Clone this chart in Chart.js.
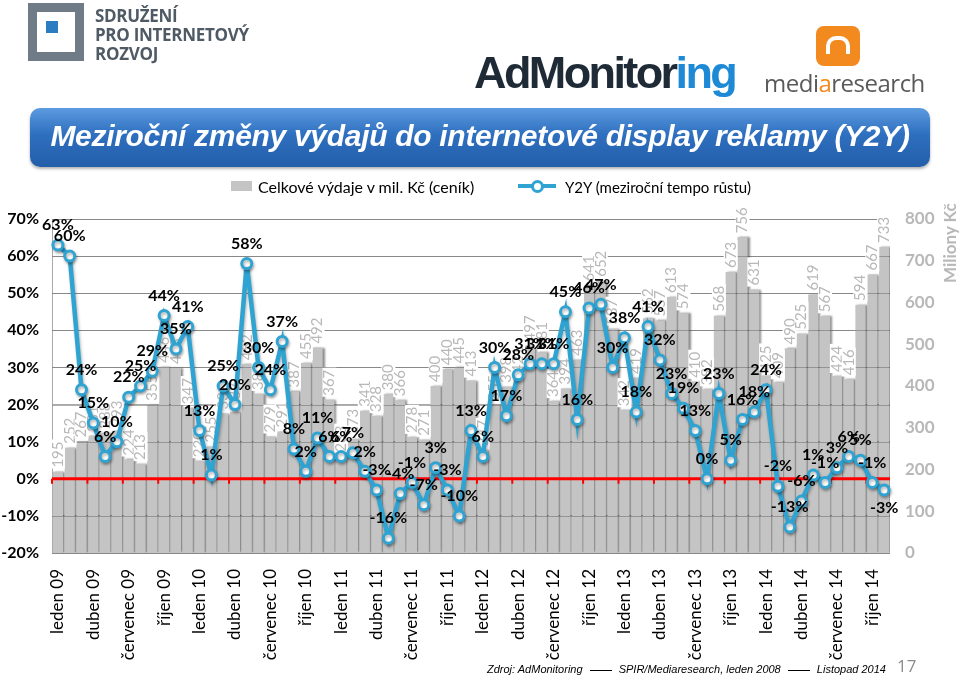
<!DOCTYPE html>
<html>
<head>
<meta charset="utf-8">
<script src="https://cdn.jsdelivr.net/npm/chart.js@4.4.0/dist/chart.umd.min.js"></script>
<style>
  body { margin: 0; width: 960px; height: 679px; position: relative; overflow: hidden; background: #fff; font-family: Lato, "Open Sans", sans-serif; }
  #chart { position: absolute; left: 0; top: 0; }
  .abs { position: absolute; }
  #spirIcon { left: 28px; top: 3px; width: 38px; height: 40px; border: 9px solid #6f7b86; }
  #spirIcon:after { content: ""; position: absolute; left: 9px; top: 9px; width: 12px; height: 12px; background: #2b7cc1; }
  #spirText { left: 95px; top: 6px; color: #4f5a65; font: bold 17px "Open Sans", sans-serif; line-height: 19px; letter-spacing: -0.3px; }
  #adm { left: 474px; top: 47px; font: bold 45px "Liberation Sans", Arial, sans-serif; color: #1e2a36; letter-spacing: -2.6px; }
  #adm span { color: #1e8ad6; }
  #mrIcon { left: 816px; top: 26px; width: 44px; height: 40px; background: #f28a1f; border-radius: 8px; }
  #mrIcon:after { content: ""; position: absolute; left: 10px; top: 10px; width: 16px; height: 14px; border: 4px solid #fff; border-radius: 10px 10px 0 0; border-bottom: none; }
  #mrText { left: 764px; top: 66px; font: 24px "Open Sans", sans-serif; color: #5a5a5a; letter-spacing: -0.5px; }
  #mrText span { color: #f28a1f; }
  #titleBar { left: 30px; top: 108px; width: 900px; height: 59px; border-radius: 10px;
    background: linear-gradient(#5c9be0, #2e6fbf 45%, #235ea9); box-shadow: 0 2px 3px rgba(0,0,0,0.3); }
  #title { left: 30px; top: 119px; width: 900px; text-align: center; color: #fff; font: italic bold 30px "Liberation Sans", Arial, sans-serif; letter-spacing: -0.3px; white-space: nowrap; }
  .legTxt { top: 177px; color: #000; }
  #legBar { left: 231px; top: 181px; width: 21px; height: 10px; background: #c4c4c4; }
  #legLine { left: 518px; top: 184px; width: 38px; height: 4px; background: #2fa3d1; }
  #legDot { left: 531px; top: 180px; width: 7px; height: 7px; border: 3px solid #2fa3d1; border-radius: 50%; background: #fff; }
  #milTitle { left: 939px; top: 283px; transform: rotate(-90deg); transform-origin: left top; color: #b8b8b8; font: bold 17px Lato, sans-serif; white-space: nowrap; }
  #source { left: 487px; top: 663px; font: italic 11px "Liberation Sans", Arial, sans-serif; color: #000; white-space: nowrap; }
  #source i.ln { display: inline-block; width: 22px; border-top: 1px solid #000; vertical-align: middle; margin: 0 4px; }
  #page { left: 897px; top: 654px; font: 17px "Open Sans", sans-serif; color: #8c8c8c; }
</style>
</head>
<body>
<canvas id="chart" width="960" height="679"></canvas>

<div class="abs" id="spirIcon"></div>
<div class="abs" id="spirText">SDRUŽENÍ<br>PRO INTERNETOVÝ<br>ROZVOJ</div>
<div class="abs" id="adm">AdMonitor<span>ing</span></div>
<div class="abs" id="mrIcon"></div>
<div class="abs" id="mrText">medi<span>a</span>research</div>
<div class="abs" id="titleBar"></div>
<div class="abs" id="title">Meziroční změny výdajů do internetové display reklamy (Y2Y)</div>
<div class="abs" id="legBar"></div>
<div class="abs legTxt" style="left:258px;font-size:16px">Celkové výdaje v mil. Kč (ceník)</div>
<div class="abs" id="legLine"></div>
<div class="abs" id="legDot"></div>
<div class="abs legTxt" style="left:565px;font-size:15px;top:178px">Y2Y (meziroční tempo růstu)</div>
<div class="abs" id="milTitle">Miliony Kč</div>
<div class="abs" id="source">Zdroj: AdMonitoring <i class="ln"></i> SPIR/Mediaresearch, leden 2008 <i class="ln"></i> Listopad 2014</div>
<div class="abs" id="page">17</div>

<script>
// months Jan 2009 .. Nov 2014
const monthNames = ["leden", "únor", "březen", "duben", "květen", "červen",
  "červenec", "srpen", "září", "říjen", "listopad", "prosinec"];
const years = ["09", "10", "11", "12", "13", "14"];
const categories = [];
years.forEach(y => monthNames.forEach(m => categories.push(m + " " + y)));
categories.length = 71;

// total spend, mil. Kč (bars, right axis)
const spend = [
  195, 252, 267, 281, 288, 293, 224, 213, 355, 446, 443, 347,
  220, 255, 334, 337, 452, 381, 279, 291, 387, 455, 492, 367,
  233, 273, 341, 328, 380, 366, 278, 271, 400, 440, 445, 413,
  247, 355, 398, 421, 497, 481, 364, 394, 463, 641, 652, 537,
  342, 419, 562, 557, 613, 574, 410, 392, 568, 673, 756, 631,
  425, 409, 490, 525, 619, 567, 424, 416, 594, 667, 733
];

// year-over-year change, % (line, left axis)
const y2y = [
  63, 60, 24, 15, 6, 10, 22, 25, 29, 44, 35, 41,
  13, 1, 25, 20, 58, 30, 24, 37, 8, 2, 11, 6,
  6, 7, 2, -3, -16, -4, -1, -7, 3, -3, -10, 13,
  6, 30, 17, 28, 31, 31, 31, 45, 16, 46, 47, 30,
  38, 18, 41, 32, 23, 19, 13, 0, 23, 5, 16, 18,
  24, -2, -13, -6, 1, -1, 3, 6, 5, -1, -3
];

const leftTicks = [-20, -10, 0, 10, 20, 30, 40, 50, 60, 70];
const rightTicks = [0, 100, 200, 300, 400, 500, 600, 700, 800];

const BLUE = "#2fa3d1";

// gridlines again on top of the bars, as in the original
function drawGridOverBars(chart) {
  const ctx = chart.ctx;
  const area = chart.chartArea;
  ctx.save();
  ctx.strokeStyle = "rgba(110,110,110,0.55)";
  ctx.lineWidth = 1;
  leftTicks.forEach(v => {
    const y = Math.round(chart.scales.y.getPixelForValue(v)) + 0.5;
    ctx.beginPath();
    ctx.moveTo(area.left, y);
    ctx.lineTo(area.right, y);
    ctx.stroke();
  });
  ctx.restore();
}

function drawZeroLine(chart) {
  const ctx = chart.ctx;
  const area = chart.chartArea;
  const y0 = chart.scales.y.getPixelForValue(0);
  const step = (area.right - area.left) / categories.length * 3;
  ctx.save();
  ctx.strokeStyle = "#ff0000";
  ctx.lineWidth = 3;
  ctx.beginPath();
  ctx.moveTo(area.left, y0);
  ctx.lineTo(area.right, y0);
  ctx.stroke();
  ctx.lineWidth = 2;
  for (let x = area.left; x < area.right; x += step) {
    ctx.beginPath();
    ctx.moveTo(x, y0);
    ctx.lineTo(x, y0 + 5);
    ctx.stroke();
  }
  ctx.restore();
}

function drawBarLabels(chart) {
  const ctx = chart.ctx;
  const meta = chart.getDatasetMeta(0);
  ctx.save();
  ctx.font = "15px Lato, sans-serif";
  ctx.textBaseline = "middle";
  ctx.textAlign = "left";
  meta.data.forEach((bar, i) => {
    const txt = String(spend[i]);
    const w = ctx.measureText(txt).width;
    ctx.save();
    ctx.translate(bar.x, bar.y - 4);
    ctx.rotate(-Math.PI / 2);
    ctx.fillStyle = "#fff";
    ctx.fillRect(-1, -7, w + 3, 14);
    ctx.fillStyle = "#b8b8b8";
    ctx.fillText(txt, 0, 0);
    ctx.restore();
  });
  ctx.restore();
}

const layers = {
  id: "layers",
  beforeDatasetDraw(chart, args) {
    const ctx = chart.ctx;
    if (args.index === 1) {
      drawGridOverBars(chart);
      drawBarLabels(chart);
      drawZeroLine(chart);
    }
    ctx.save();
    if (args.index === 0) {
      ctx.shadowColor = "rgba(0,0,0,0.45)";
      ctx.shadowOffsetX = 2;
      ctx.shadowBlur = 2;
    } else {
      ctx.shadowColor = "rgba(0,0,0,0.3)";
      ctx.shadowOffsetX = 1;
      ctx.shadowOffsetY = 2;
      ctx.shadowBlur = 3;
    }
  },
  afterDatasetDraw(chart) {
    chart.ctx.restore();
  },
  afterDatasetsDraw(chart) {
    const ctx = chart.ctx;
    const meta = chart.getDatasetMeta(1);
    ctx.save();
    ctx.font = "bold 16px Lato, sans-serif";
    ctx.fillStyle = "#000";
    ctx.textAlign = "center";
    ctx.textBaseline = "middle";
    meta.data.forEach((pt, i) => {
      const below = i === meta.data.length - 1;
      ctx.fillText(y2y[i] + "%", pt.x, below ? pt.y + 18 : pt.y - 20);
    });
    ctx.restore();
  }
};

new Chart(document.getElementById("chart"), {
  data: {
    labels: categories,
    datasets: [
      {
        type: "bar",
        label: "Celkové výdaje v mil. Kč (ceník)",
        data: spend,
        yAxisID: "y1",
        backgroundColor: "#c4c4c4",
        barPercentage: 0.86,
        categoryPercentage: 1,
        order: 2
      },
      {
        type: "line",
        label: "Y2Y (meziroční tempo růstu)",
        data: y2y,
        yAxisID: "y",
        borderColor: BLUE,
        borderWidth: 4.5,
        pointRadius: 5,
        pointBorderWidth: 3,
        pointBackgroundColor: "#fff",
        pointBorderColor: BLUE,
        tension: 0,
        order: 1
      }
    ]
  },
  options: {
    responsive: false,
    animation: false,
    layout: { padding: { top: 219, left: 0, right: 0, bottom: 0 } },
    plugins: {
      legend: { display: false },
      tooltip: { enabled: false }
    },
    scales: {
      x: {
        grid: { display: false },
        border: { display: false },
        ticks: {
          autoSkip: false,
          maxRotation: 90,
          minRotation: 90,
          padding: 8,
          color: "#000",
          font: { size: 17, family: "Lato, sans-serif" },
          callback: (v, i) => (i % 3 === 0 ? categories[i] : "")
        },
        afterFit: s => { s.height = 126; }
      },
      y: {
        position: "left",
        min: -20,
        max: 70,
        afterBuildTicks: s => { s.ticks = leftTicks.map(v => ({ value: v })); },
        grid: { color: "#a8a8a8", lineWidth: 1, drawTicks: false },
        border: { display: true, color: "#a8a8a8" },
        ticks: {
          padding: 13,
          color: "#000",
          font: { size: 16, weight: "bold", family: "Lato, sans-serif" },
          callback: v => v + "%"
        },
        afterFit: s => { s.width = 52; }
      },
      y1: {
        position: "right",
        min: 0,
        max: 800,
        afterBuildTicks: s => { s.ticks = rightTicks.map(v => ({ value: v })); },
        grid: { display: false, drawTicks: false },
        border: { display: false },
        ticks: {
          padding: 15,
          color: "#b8b8b8",
          font: { size: 17, weight: "bold", family: "Lato, sans-serif" }
        },
        afterFit: s => { s.width = 70; }
      }
    }
  },
  plugins: [layers]
});
</script>
</body>
</html>
